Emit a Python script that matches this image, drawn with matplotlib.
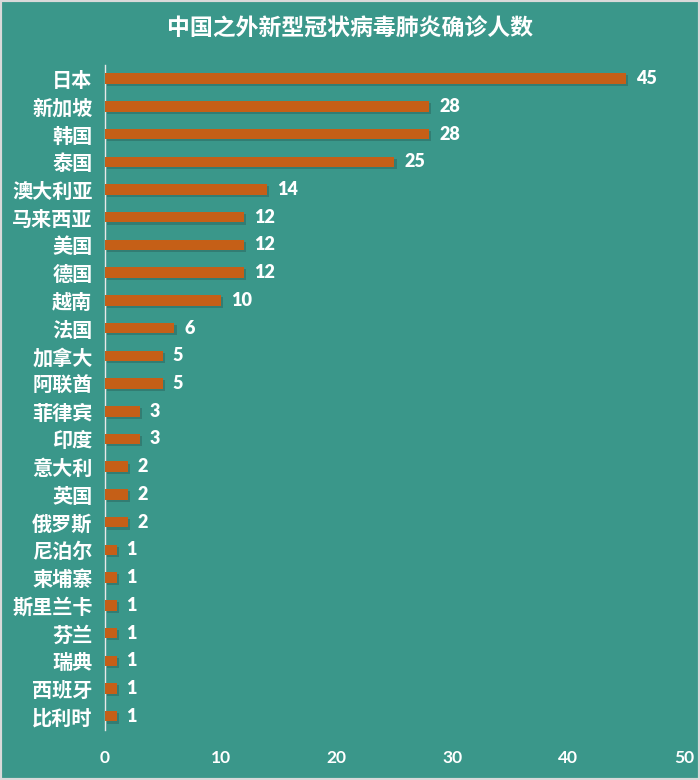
import matplotlib
matplotlib.use("Agg")
import matplotlib.pyplot as plt
import matplotlib.patheffects as pe

plt.rcParams['font.family'] = ['Noto Sans CJK SC', 'DejaVu Sans']

countries = ["日本", "新加坡", "韩国", "泰国", "澳大利亚", "马来西亚", "美国", "德国",
             "越南", "法国", "加拿大", "阿联酋", "菲律宾", "印度", "意大利", "英国",
             "俄罗斯", "尼泊尔", "柬埔寨", "斯里兰卡", "芬兰", "瑞典", "西班牙", "比利时"]
cases = [45, 28, 28, 25, 14, 12, 12, 12, 10, 6, 5, 5, 3, 3, 2, 2, 2, 1, 1, 1, 1, 1, 1, 1]
xticks = [0, 10, 20, 30, 40, 50]
title = "中国之外新型冠状病毒肺炎确诊人数"

bg = "#3a978a"
bar_color = "#c55f17"

fig = plt.figure(figsize=(7, 7.8), dpi=100, facecolor=bg)
fig.patches.append(plt.Rectangle((0, 0), 1, 1, transform=fig.transFigure,
                                 fill=False, edgecolor="#d9d9d9", linewidth=3))
ax = fig.add_axes([0.15, 0.064, 0.827, 0.853])
ax.set_facecolor(bg)

ypos = list(range(len(countries)))
bars = ax.barh(ypos, cases, height=0.38, color=bar_color, zorder=3)
for b in bars:
    b.set_path_effects([pe.SimplePatchShadow(offset=(1.5, -1.5), shadow_rgbFace="#2a5f57", alpha=0.45),
                        pe.Normal()])

ax.set_ylim(len(countries) - 0.5, -0.5)
ax.set_xlim(0, 50)
ax.set_yticks(ypos)
ax.set_yticklabels(countries, fontsize=14.5, fontweight='bold', color='white')
ax.set_xticks(xticks)
ax.set_xticklabels([str(t) for t in xticks], fontsize=12.5, fontweight='bold', color='white',
                   family=['Lato', 'DejaVu Sans'])
ax.tick_params(axis='both', length=0)
ax.tick_params(axis='y', pad=9)
ax.tick_params(axis='x', pad=14)

for s in ['top', 'right', 'bottom']:
    ax.spines[s].set_visible(False)
ax.spines['left'].set_color('#e8e8e8')
ax.spines['left'].set_linewidth(1)

for y, v in zip(ypos, cases):
    ax.text(v + 0.85, y, str(v), va='center', ha='left', color='white', fontsize=13,
            fontweight='heavy', family=['Lato', 'DejaVu Sans'])

fig.text(0.5, 0.963, title, ha='center', va='center', color='white', fontsize=16.5, fontweight='bold')

fig.savefig("out.png", dpi=100, facecolor=bg)
